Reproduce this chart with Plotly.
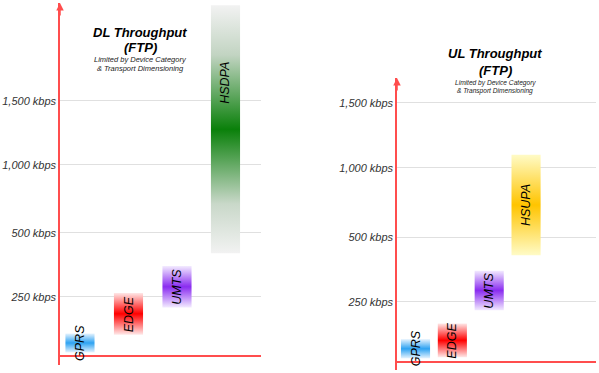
import numpy as np
import plotly.graph_objects as go

# ---------------- data (kbps) ----------------
dl_categories = ["GPRS", "EDGE", "UMTS", "HSDPA"]
dl_low = [15, 90, 205, 420]
dl_high = [95, 265, 370, 2250]

ul_categories = ["GPRS", "EDGE", "UMTS", "HSUPA"]
ul_low = [15, 20, 215, 430]
ul_high = [95, 160, 370, 1100]

tick_kbps = [250, 500, 1000, 1500]
tick_labels = ["250 kbps", "500 kbps", "1,000 kbps", "1,500 kbps"]

# ---------------- stepped throughput scale ----------------
SCALE_KBPS = [0, 250, 500, 1000, 1500, 2500]
SCALE_POS = [0, 0.93, 1.93, 3, 4, 6]


def scale(v):
    return np.interp(v, SCALE_KBPS, SCALE_POS)


# ---------------- styles ----------------
FONT = "Liberation Sans, Arial, sans-serif"
RED = "#ff4d4d"
GRID = "#e0e0e0"
GRADIENTS = {
    "GPRS": [[0, "#e6f3fe"], [0.5, "#2ea3f2"], [1, "#e6f3fe"]],
    "EDGE": [[0, "#ffe8e8"], [0.5, "#ff0000"], [1, "#ffe8e8"]],
    "UMTS": [[0, "#f2eaff"], [0.5, "#8a2cf0"], [1, "#f2eaff"]],
    "HSDPA": [[0, "#f2f2f2"], [0.2, "#c9d8c9"], [0.5, "#0a800a"],
              [0.8, "#c2d4c2"], [1, "#f2f2f2"]],
    "HSUPA": [[0, "#fffbc6"], [0.5, "#ffc400"], [1, "#fffbc6"]],
}
LABEL_SHIFT = {"HSDPA": 46}

fig = go.Figure()


def add_panel(cats, lows, highs, xa, ya, width):
    for i, (c, lo, hi) in enumerate(zip(cats, lows, highs)):
        y0, y1 = float(scale(lo)), float(scale(hi))
        x0, x1 = i - width / 2, i + width / 2
        fig.add_trace(go.Scatter(
            x=[x0, x1, x1, x0, x0], y=[y0, y0, y1, y1, y0],
            fill="toself", mode="lines",
            line=dict(width=0, color="rgba(0,0,0,0)"),
            fillgradient=dict(type="vertical", colorscale=GRADIENTS[c]),
            hoverinfo="skip", showlegend=False, xaxis=xa, yaxis=ya))
        fig.add_annotation(
            x=i, y=(y0 + y1) / 2, xref=xa, yref=ya, text=c, textangle=-90,
            showarrow=False, yshift=LABEL_SHIFT.get(c, 0),
            font=dict(family=FONT, size=12.5, color="#000", style="italic"))


add_panel(dl_categories, dl_low, dl_high, "x", "y", 0.6)
add_panel(ul_categories, ul_low, ul_high, "x2", "y2", 0.79)


def yaxis_style(domain, rng, anchor):
    return dict(
        domain=domain, range=rng, anchor=anchor,
        tickvals=list(scale(tick_kbps)), ticktext=tick_labels,
        showgrid=True, gridcolor=GRID, gridwidth=1,
        showline=True, linecolor=RED, linewidth=1.5,
        zeroline=True, zerolinecolor=RED, zerolinewidth=1.5,
        ticks="", automargin=False, fixedrange=True,
        tickfont=dict(family=FONT, size=11, color="#333", style="italic"))


def xaxis_style(domain, rng, anchor):
    return dict(domain=domain, range=rng, anchor=anchor, visible=False,
                fixedrange=True)


fig.update_layout(
    width=599, height=373,
    margin=dict(l=0, r=0, t=0, b=0),
    paper_bgcolor="white", plot_bgcolor="rgba(0,0,0,0)",
    showlegend=False,
    xaxis=xaxis_style([60 / 599, 261 / 599], [-0.412, 3.732], "y"),
    yaxis=yaxis_style([0.02145, 0.99196], [-0.141, 5.537], "x"),
    xaxis2=xaxis_style([397 / 599, 596 / 599], [-0.502, 4.898], "y2"),
    yaxis2=yaxis_style([0.00804, 0.79088], [-0.1236, 4.386], "x2"),
)

# axis arrows
for xr, yr in (("x domain", "y domain"), ("x2 domain", "y2 domain")):
    fig.add_annotation(x=0, y=1, xref=xr, yref=yr, ax=0, ay=14, text="",
                       showarrow=True, arrowhead=2, arrowsize=1,
                       arrowwidth=1.5, arrowcolor=RED)

# titles: (title, centre x, title line ys, subtitle size, subtitle line ys)
titles = [
    ("DL Throughput", 140, (32, 48), 7.5, (59.5, 68.5)),
    ("UL Throughput", 495, (54, 70.5), 6.6, (83, 91)),
]
for name, cx, (ty1, ty2), sub_size, (sy1, sy2) in titles:
    for text, ty in ((name, ty1), ("(FTP)", ty2)):
        fig.add_annotation(
            x=cx / 599, y=1 - ty / 373, xref="paper", yref="paper", text=text,
            showarrow=False, xanchor="center", yanchor="middle", borderpad=0,
            font=dict(family=FONT, size=13, color="#000", weight="bold",
                      style="italic"))
    for text, sy in (("Limited by Device Category", sy1),
                     ("& Transport Dimensioning", sy2)):
        fig.add_annotation(
            x=cx / 599, y=1 - sy / 373, xref="paper", yref="paper", text=text,
            showarrow=False, xanchor="center", yanchor="middle", borderpad=0,
            font=dict(family=FONT, size=sub_size, color="#222",
                      style="italic"))

fig.write_html(
    "out.html",
    config={"displayModeBar": False},
    post_script="document.body.style.margin='0';"
                "document.body.style.padding='0';")
